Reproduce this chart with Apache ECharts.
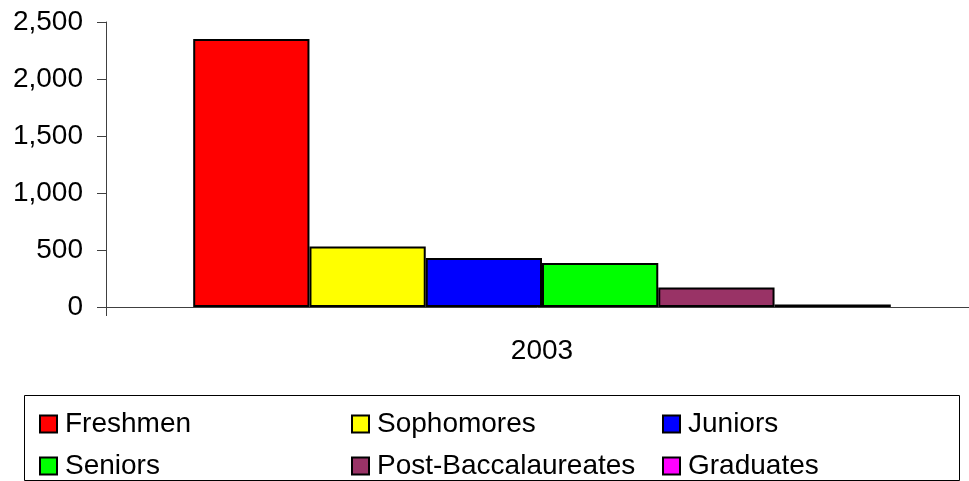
<!DOCTYPE html>
<html>
<head>
<meta charset="utf-8">
<script src="https://cdn.jsdelivr.net/npm/echarts@6/dist/echarts.min.js"></script>
<style>
  html, body { margin: 0; padding: 0; background: #fff; }
  #chart { width: 969px; height: 481px; }
</style>
</head>
<body>
<div id="chart"></div>
<script>
// Enrollment by class level, 2003
const categories = ['2003'];
const seriesNames = ['Freshmen', 'Sophomores', 'Juniors', 'Seniors', 'Post-Baccalaureates', 'Graduates'];
const seriesValues = [2350, 530, 430, 385, 172, 23];
const seriesColors = ['#ff0000', '#ffff00', '#0000ff', '#00ff00', '#993366', '#ff00ff'];
const yTicks = [0, 500, 1000, 1500, 2000, 2500];

const FONT = "'Liberation Sans', Arial, sans-serif";
const FONT_SIZE = 28;

const chart = echarts.init(document.getElementById('chart'), null, { renderer: 'canvas' });

const series = seriesNames.map((name, i) => ({
  name: name,
  type: 'bar',
  data: [seriesValues[i]],
  barGap: '0%',
  barCategoryGap: '20%',
  itemStyle: { color: seriesColors[i], borderColor: '#000', borderWidth: 2 },
  emphasis: { disabled: true },
  animation: false
}));

// legend laid out as a 3-column, 2-row table inside a framed box
const colX = [34, 346, 657];
const rowY = [405, 447];
const legends = seriesNames.map((name, i) => ({
  data: [name],
  left: colX[i % 3],
  top: rowY[Math.floor(i / 3)],
  itemWidth: 17,
  itemHeight: 17,
  itemGap: 0,
  icon: 'rect',
  selectedMode: false,
  textStyle: { fontFamily: FONT, fontSize: FONT_SIZE, color: '#000', padding: [0, 0, 0, 3] }
}));

chart.setOption({
  animation: false,
  backgroundColor: '#fff',
  grid: { left: 106, right: -9, top: 22, bottom: 174, containLabel: false, outerBoundsMode: 'none' },
  xAxis: {
    type: 'category',
    data: categories,
    axisLine: { lineStyle: { color: '#404040', width: 1 } },
    axisTick: { show: true, length: 9, lineStyle: { color: '#404040' } },
    axisLabel: { fontFamily: FONT, fontSize: FONT_SIZE, color: '#000', margin: 30 }
  },
  yAxis: {
    type: 'value',
    min: yTicks[0],
    max: yTicks[yTicks.length - 1],
    interval: yTicks[1] - yTicks[0],
    axisLine: { show: true, lineStyle: { color: '#404040', width: 1 } },
    axisTick: { show: true, length: 9, lineStyle: { color: '#404040' } },
    splitLine: { show: false },
    axisLabel: {
      fontFamily: FONT, fontSize: FONT_SIZE, color: '#000', margin: 23,
      formatter: v => v.toLocaleString('en-US')
    }
  },
  legend: legends,
  graphic: [{
    type: 'rect',
    shape: { x: 24.5, y: 395.5, width: 935, height: 85 },
    style: { fill: 'none', stroke: '#000', lineWidth: 1 },
    silent: true
  }],
  series: series
});
</script>
</body>
</html>
